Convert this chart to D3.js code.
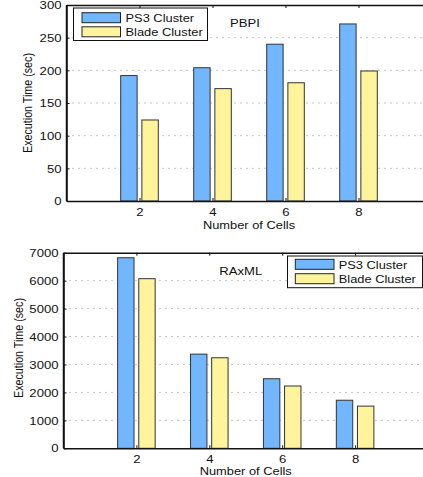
<!DOCTYPE html>
<html><head><meta charset="utf-8">
<script src="https://cdn.jsdelivr.net/npm/d3@7"></script>
<style>
html,body{margin:0;padding:0;background:#fff;}
svg{display:block;font-family:"Liberation Sans",Arial,Helvetica,sans-serif;}
</style></head>
<body>
<svg id="c" width="423" height="477"></svg>
<script>
const cells = [2, 4, 6, 8];
const seriesNames = ["PS3 Cluster", "Blade Cluster"];
const pbpiPS3 = [192, 204, 240, 271];
const pbpiBlade = [124, 172, 181, 199];
const raxmlPS3 = [6820, 3370, 2490, 1720];
const raxmlBlade = [6070, 3240, 2230, 1510];
const pbpiTicks = [0, 50, 100, 150, 200, 250, 300];
const raxmlTicks = [0, 1000, 2000, 3000, 4000, 5000, 6000, 7000];

const colors = ["#72b6ff", "#fff39c"];
const SX = 1.25;
const svg = d3.select("#c");

function stretchText(g, x, y, s, size, anchor) {
  return g.append("text")
    .attr("transform", `translate(${x},${y}) scale(${SX},1)`)
    .attr("text-anchor", anchor || "start")
    .attr("font-size", size)
    .attr("fill", "#111")
    .text(s);
}

function panel(cfg) {
  const g = svg.append("g");
  const x = d3.scaleLinear().domain([0, 10]).range([cfg.left, cfg.right]);
  const y = d3.scaleLinear().domain([0, cfg.ymax]).range([cfg.bottom, cfg.top]);

  // grid
  g.append("g").selectAll("line")
    .data(cfg.ticks.filter(t => t > 0 && t < cfg.ymax))
    .join("line")
    .attr("x1", cfg.left).attr("x2", cfg.right)
    .attr("y1", d => y(d)).attr("y2", d => y(d))
    .attr("stroke", "#8a8a8a").attr("stroke-width", 1)
    .attr("stroke-dasharray", "1,5");

  // bars
  const bw = 0.45, off = 0.29;
  cfg.series.forEach((vals, si) => {
    g.append("g").selectAll("rect")
      .data(vals)
      .join("rect")
      .attr("x", (d, i) => x(cells[i] + (si === 0 ? -off : off) - bw / 2))
      .attr("width", x(bw) - x(0))
      .attr("y", d => y(d))
      .attr("height", d => y(0) - y(d))
      .attr("fill", colors[si])
      .attr("stroke", "#333").attr("stroke-width", 1);
  });

  // axes
  const ya = g.append("g").attr("transform", `translate(${cfg.left},0)`)
    .call(d3.axisLeft(y).tickValues(cfg.ticks).tickSizeInner(-3).tickSizeOuter(0).tickFormat(d3.format("d")));
  const xa = g.append("g").attr("transform", `translate(0,${cfg.bottom})`)
    .call(d3.axisBottom(x).tickValues(cells).tickSizeInner(-3).tickSizeOuter(0));
  const xt = g.append("g").attr("transform", `translate(0,${cfg.top})`)
    .call(d3.axisTop(x).tickValues(cells).tickSizeInner(-3).tickSizeOuter(0).tickFormat(""));
  [ya, xa, xt].forEach(a => {
    a.select(".domain").attr("stroke", "#111").attr("stroke-width", 1.5);
    a.selectAll(".tick line").attr("stroke", "#111").attr("stroke-width", 1);
  });
  ya.selectAll(".tick text")
    .attr("x", -5 / SX).attr("dy", "0.35em")
    .attr("transform", `scale(${SX},1)`)
    .attr("font-size", 10.5).attr("fill", "#111")
    .attr("font-family", "Liberation Sans, Arial, sans-serif");
  xa.selectAll(".tick text")
    .attr("y", cfg.xtickY - cfg.bottom).attr("dy", 0)
    .attr("transform", `scale(${SX},1)`)
    .attr("font-size", 10.5).attr("fill", "#111")
    .attr("font-family", "Liberation Sans, Arial, sans-serif");
  g.append("line").attr("x1", cfg.left).attr("x2", cfg.left)
    .attr("y1", cfg.top).attr("y2", cfg.bottom).attr("stroke", "#111").attr("stroke-width", 1.5);

  // titles
  stretchText(g, cfg.xTitleX, cfg.xTitleY, "Number of Cells", 10.3, "middle");
  g.append("text")
    .attr("transform", `translate(${cfg.yTitleX},${cfg.yTitleY}) rotate(-90) scale(1.02,${SX})`)
    .attr("text-anchor", "middle").attr("dominant-baseline", "central")
    .attr("font-size", 10.5).attr("fill", "#111")
    .text("Execution Time (sec)");
  stretchText(g, cfg.labelX, cfg.labelY, cfg.label, 10.5, "middle");

  // legend
  const L = cfg.legend;
  g.append("rect").attr("x", L.x).attr("y", L.y).attr("width", L.w).attr("height", L.h)
    .attr("fill", "#fff").attr("stroke", "#111").attr("stroke-width", 1);
  seriesNames.forEach((n, i) => {
    g.append("rect").attr("x", L.sx).attr("y", L.sy[i]).attr("width", L.sw).attr("height", 10)
      .attr("fill", colors[i]).attr("stroke", "#222").attr("stroke-width", 1);
    stretchText(g, L.tx, L.ty[i], n, 10.3, "start");
  });
}

panel({
  left: 66.5, right: 431.5, top: 5, bottom: 201, ymax: 300, ticks: pbpiTicks,
  series: [pbpiPS3, pbpiBlade], xtickY: 216.5, xTitleX: 249, xTitleY: 228.5,
  yTitleX: 28, yTitleY: 103, label: "PBPI", labelX: 245, labelY: 27,
  legend: {x: 73.5, y: 8, w: 134, h: 32.5, sx: 82, sw: 38.5, sy: [12.7, 26.8], tx: 125.5, ty: [21.5, 35.8]}
});
panel({
  left: 63.5, right: 428, top: 252.7, bottom: 448.3, ymax: 7000, ticks: raxmlTicks,
  series: [raxmlPS3, raxmlBlade], xtickY: 463.3, xTitleX: 245.7, xTitleY: 475,
  yTitleX: 18.5, yTitleY: 348, label: "RAxML", labelX: 240.7, labelY: 275.3,
  legend: {x: 287.5, y: 256, w: 135, h: 31.7, sx: 295.3, sw: 38.7, sy: [259.3, 273.7], tx: 338.7, ty: [268.5, 282.5]}
});
</script>
</body></html>
